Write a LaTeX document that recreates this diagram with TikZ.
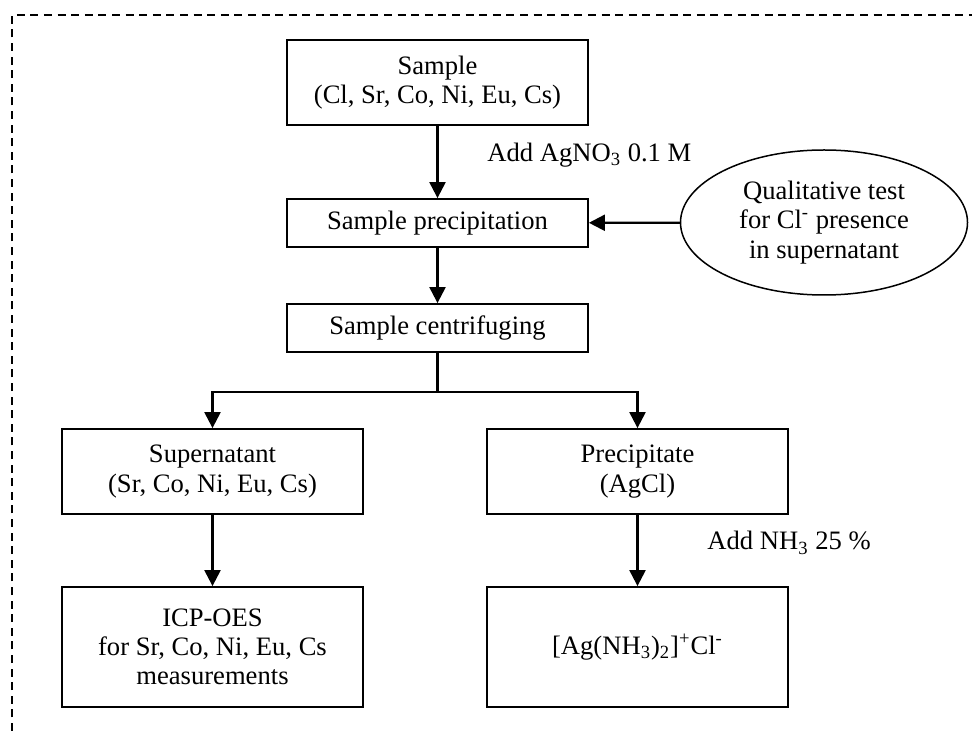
\documentclass[tikz,border=0pt]{standalone}
\usepackage{fontspec}
\setmainfont{Liberation Serif}
\usetikzlibrary{positioning,shapes.geometric,arrows.meta}

\begin{document}
\begin{tikzpicture}[x=0.5pt, y=-0.5pt,
                      every node/.style = {align=center,
                        font=\fontsize{13.3}{14.6}\selectfont},
                      box/.style = {shape=rectangle, draw, line width=0.9pt,
                        minimum width=150.5pt, inner sep=0pt},
                      oval/.style = {ellipse, draw, line width=0.75pt,
                        minimum width=143.5pt, minimum height=72.5pt, inner sep=0pt},
                      flow/.style = {-{Triangle[length=8pt,width=8pt]}, line width=1.1pt},
                      note/.style = {anchor=west, inner sep=0pt}]
                      \useasboundingbox (0,0) rectangle (972,731);
                      % dashed frame, cut by the page
                      \draw[dashed, dash pattern=on 4pt off 2.8pt, line width=0.65pt]
                        (12,731) -- (12,15) -- (972,15);
                      % main column
                      \node[box, minimum height=42.5pt] (sample) at (437.5,82.5)
                        {Sample\\(Cl, Sr, Co, Ni, Eu, Cs)};
                      \node[box, minimum height=24pt] (precip) at (437.5,223)
                        {Sample precipitation};
                      \node[box, minimum height=24pt] (centri) at (437.5,328)
                        {Sample centrifuging};
                      \node[oval] (cltest) at (824,222.5)
                        {Qualitative test\\for Cl\textsuperscript{-} presence\\in supernatant};
                      % branches
                      \node[box, minimum height=42.5pt] (super) at (212.5,471.5)
                        {Supernatant\\(Sr, Co, Ni, Eu, Cs)};
                      \node[box, minimum height=42.5pt] (solid) at (637.5,471.5)
                        {Precipitate\\(AgCl)};
                      \node[box, minimum height=60pt] (icp) at (212.5,647)
                        {ICP-OES\\for Sr, Co, Ni, Eu, Cs\\measurements};
                      \node[box, minimum height=60pt] (complex) at (637.5,647)
                        {[Ag(NH\textsubscript{3})\textsubscript{2}]\textsuperscript{+}Cl\textsuperscript{-}};
                      \coordinate (split) at (437.5,392);
                      % labels
                      \node[note] (addag) at (487,155) {Add AgNO\textsubscript{3} 0.1 M};
                      \node[note] (addnh) at (707,543) {Add NH\textsubscript{3} 25 \%};
                      % connectors
                      \draw[flow] (sample) -- (precip);
                      \draw[flow] (cltest) -- (precip);
                      \draw[flow] (precip) -- (centri);
                      \draw[line width=1.1pt] (centri) -- (split);
                      \draw[flow] (split) -| (super);
                      \draw[flow] (split) -| (solid);
                      \draw[flow] (super) -- (icp);
                      \draw[flow] (solid) -- (complex);
                    \end{tikzpicture}
\end{document}
